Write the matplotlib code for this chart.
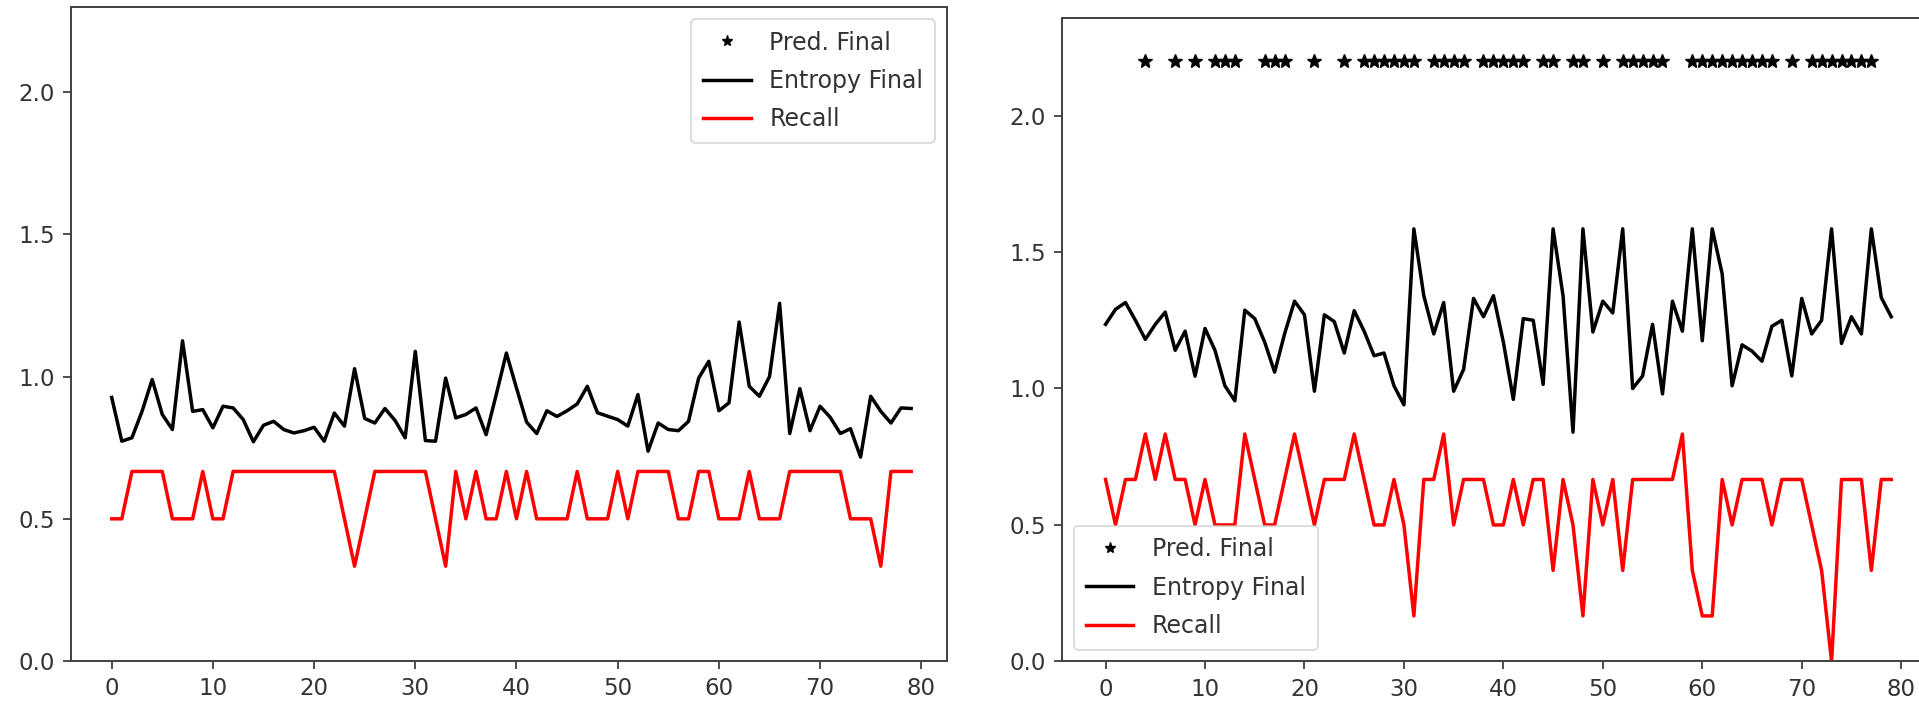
import matplotlib
matplotlib.use("Agg")
import matplotlib.pyplot as plt

# ---------------- data ----------------
x_left = list(range(80))
x_right = list(range(80))

left_entropy = [0.927, 0.773, 0.785, 0.878, 0.99, 0.867, 0.814, 1.126, 0.878, 0.884,
                0.82, 0.896, 0.89, 0.849, 0.771, 0.829, 0.843, 0.814, 0.802, 0.81,
                0.822, 0.773, 0.872, 0.826, 1.028, 0.853, 0.837, 0.888, 0.846, 0.785,
                1.089, 0.775, 0.773, 0.995, 0.855, 0.867, 0.89, 0.796, 0.937, 1.083,
                0.96, 0.84, 0.80, 0.88, 0.86, 0.88, 0.904, 0.966, 0.873, 0.861,
                0.849, 0.826, 0.937, 0.738, 0.837, 0.814, 0.81, 0.843, 0.995, 1.054,
                0.88, 0.908, 1.192, 0.966, 0.931, 1.0, 1.258, 0.80, 0.958, 0.81,
                0.896, 0.857, 0.80, 0.817, 0.717, 0.931, 0.878, 0.837, 0.89, 0.888]

left_recall = [1/2, 1/2, 2/3, 2/3, 2/3, 2/3, 1/2, 1/2, 1/2, 2/3,
               1/2, 1/2, 2/3, 2/3, 2/3, 2/3, 2/3, 2/3, 2/3, 2/3,
               2/3, 2/3, 2/3, 1/2, 1/3, 1/2, 2/3, 2/3, 2/3, 2/3,
               2/3, 2/3, 1/2, 1/3, 2/3, 1/2, 2/3, 1/2, 1/2, 2/3,
               1/2, 2/3, 1/2, 1/2, 1/2, 1/2, 2/3, 1/2, 1/2, 1/2,
               2/3, 1/2, 2/3, 2/3, 2/3, 2/3, 1/2, 1/2, 2/3, 2/3,
               1/2, 1/2, 1/2, 2/3, 1/2, 1/2, 1/2, 2/3, 2/3, 2/3,
               2/3, 2/3, 2/3, 1/2, 1/2, 1/2, 1/3, 2/3, 2/3, 2/3]

left_pred_x = []
left_pred_y = []

right_entropy = [1.235, 1.29, 1.315, 1.25, 1.18, 1.235, 1.28, 1.14, 1.21, 1.045,
                 1.22, 1.14, 1.01, 0.955, 1.287, 1.256, 1.17, 1.06, 1.2, 1.32,
                 1.27, 0.99, 1.27, 1.245, 1.13, 1.285, 1.21, 1.12, 1.13, 1.01,
                 0.94, 1.585, 1.34, 1.2, 1.315, 0.99, 1.07, 1.33, 1.263, 1.34,
                 1.17, 0.96, 1.256, 1.25, 1.015, 1.585, 1.34, 0.84, 1.585, 1.207,
                 1.32, 1.277, 1.585, 1.0, 1.046, 1.235, 0.98, 1.32, 1.21, 1.585,
                 1.175, 1.585, 1.42, 1.01, 1.16, 1.137, 1.10, 1.228, 1.25, 1.046,
                 1.33, 1.2, 1.25, 1.585, 1.165, 1.263, 1.2, 1.585, 1.333, 1.263]

right_recall = [2/3, 1/2, 2/3, 2/3, 5/6, 2/3, 5/6, 2/3, 2/3, 1/2,
                2/3, 1/2, 1/2, 1/2, 5/6, 2/3, 1/2, 1/2, 2/3, 5/6,
                2/3, 1/2, 2/3, 2/3, 2/3, 5/6, 2/3, 1/2, 1/2, 2/3,
                1/2, 1/6, 2/3, 2/3, 5/6, 1/2, 2/3, 2/3, 2/3, 1/2,
                1/2, 2/3, 1/2, 2/3, 2/3, 1/3, 2/3, 1/2, 1/6, 2/3,
                1/2, 2/3, 1/3, 2/3, 2/3, 2/3, 2/3, 2/3, 5/6, 1/3,
                1/6, 1/6, 2/3, 1/2, 2/3, 2/3, 2/3, 1/2, 2/3, 2/3,
                2/3, 1/2, 1/3, 0.0, 2/3, 2/3, 2/3, 1/3, 2/3, 2/3]

right_pred_x = [4, 7, 9, 11, 12, 13, 16, 17, 18, 21, 24, 26, 27, 28, 29, 30, 31,
                33, 34, 35, 36, 38, 39, 40, 41, 42, 44, 45, 47, 48, 50, 52, 53,
                54, 55, 56, 59, 60, 61, 62, 63, 64, 65, 66, 67, 69, 71, 72, 73,
                74, 75, 76, 77]
right_pred_y = [2.2] * len(right_pred_x)

x_ticks = [0, 10, 20, 30, 40, 50, 60, 70, 80]
y_ticks = [0.0, 0.5, 1.0, 1.5, 2.0]

# ---------------- style ----------------
FS = 16.5
LFS = 17.0
plt.rcParams['font.family'] = ['DejaVu Sans']
plt.rcParams['font.size'] = FS

W, H = 1919, 703
fig = plt.figure(figsize=(W / 100, H / 100), dpi=100)
fig.patch.set_facecolor('white')

ax1 = fig.add_axes([71 / W, 42 / H, (947 - 71) / W, (661 - 7) / H])
ax2 = fig.add_axes([1062.4 / W, 41.6 / H, (1934 - 1062.4) / W, (661.4 - 17.9) / H])

LW = 2.5
MS = 10

def draw(ax, px, py, ent, rec, xs, loc):
    ax.plot(px, py, linestyle='none', marker='*', color='black', markersize=MS,
            label='Pred. Final')
    ax.plot(xs, ent, color='black', linewidth=LW, label='Entropy Final')
    ax.plot(xs, rec, color='red', linewidth=LW, label='Recall')
    ax.set_xticks(x_ticks)
    ax.set_yticks(y_ticks)
    ax.tick_params(axis='both', labelsize=FS, length=5.8, width=1.3, pad=6.0,
                   colors='#404040', labelcolor='#333333')
    for s in ax.spines.values():
        s.set_linewidth(1.4)
        s.set_color('#404040')
    leg = ax.legend(loc=loc, fontsize=LFS, framealpha=0.8, borderpad=0.5,
                    labelspacing=0.6, handlelength=2.0, handletextpad=0.8,
                    markerscale=0.8)
    leg.get_frame().set_linewidth(1.2)
    for t in leg.get_texts():
        t.set_color('#333333')

draw(ax1, left_pred_x, left_pred_y, left_entropy, left_recall, x_left, 'upper right')
ax1.set_xlim(-4.02, 82.54)
ax1.set_ylim(0, 2.3)

draw(ax2, right_pred_x, right_pred_y, right_entropy, right_recall, x_right, 'lower left')
ax2.set_xlim(-4.34, 83.3)
ax2.set_ylim(0, 2.358)

fig.savefig('out.png', dpi=100, facecolor='white')
